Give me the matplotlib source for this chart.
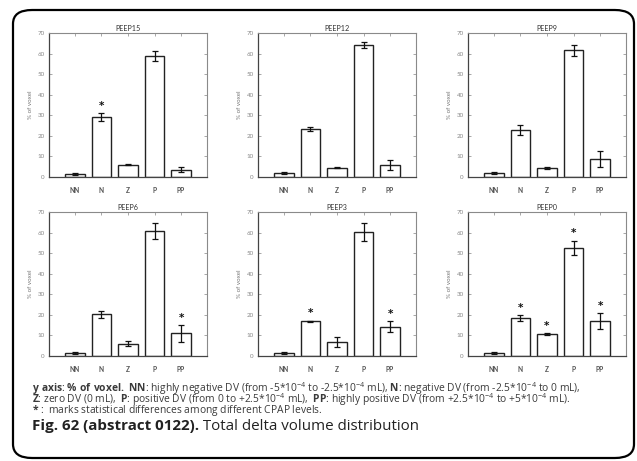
import numpy as np
import matplotlib
matplotlib.use("Agg")
import matplotlib.pyplot as plt
from matplotlib.patches import FancyBboxPatch

plt.rcParams['font.family'] = ['Lato', 'DejaVu Sans']
plt.rcParams['mathtext.default'] = 'regular'
plt.rcParams['mathtext.fontset'] = 'custom'
plt.rcParams['mathtext.rm'] = 'Open Sans'
plt.rcParams['mathtext.bf'] = 'Open Sans:bold'

# data
categories = ["NN", "N", "Z", "P", "PP"]
panels = ["PEEP15", "PEEP12", "PEEP9", "PEEP6", "PEEP3", "PEEP0"]
means = [
    [1.5, 29.0, 6.0, 58.8, 3.6],
    [1.8, 23.2, 4.6, 64.2, 5.8],
    [1.8, 22.8, 4.6, 61.5, 8.8],
    [1.5, 20.3, 6.0, 60.8, 11.0],
    [1.5, 16.9, 6.8, 60.2, 14.3],
    [1.5, 18.3, 10.6, 52.6, 17.0],
]
errors = [
    [0.3, 2.0, 0.4, 2.3, 1.2],
    [0.4, 1.0, 0.4, 1.5, 2.3],
    [0.4, 2.3, 0.5, 2.5, 4.0],
    [0.3, 1.7, 1.3, 4.0, 4.0],
    [0.3, 0.3, 2.2, 4.5, 2.7],
    [0.4, 1.5, 0.4, 3.5, 4.0],
]
# 1 = marked with a star
stars = [
    [0, 1, 0, 0, 0],
    [0, 0, 0, 0, 0],
    [0, 0, 0, 0, 0],
    [0, 0, 0, 0, 1],
    [0, 1, 0, 0, 1],
    [0, 1, 1, 1, 1],
]

W, H = 637, 461
fig = plt.figure(figsize=(W / 100, H / 100), dpi=100)

# rounded frame round the whole figure
frame = FancyBboxPatch((13 / W, 1 - 458 / H), 621 / W, 448 / H,
                       boxstyle="round,pad=0,rounding_size=0.03",
                       transform=fig.transFigure, fill=False,
                       edgecolor="black", linewidth=1.6)
fig.patches.append(frame)

lefts = [49, 258, 468]
bottoms = [177, 356]
aw, ah = 158, 144
x = np.arange(1, 6)

for i, name in enumerate(panels):
    r, c = divmod(i, 3)
    ax = fig.add_axes([lefts[c] / W, 1 - bottoms[r] / H, aw / W, ah / H])
    ax.bar(x, means[i], width=0.72, color="white", edgecolor="#222222",
           linewidth=1.0, zorder=2)
    ax.errorbar(x, means[i], yerr=errors[i], fmt="none", ecolor="#111111",
                elinewidth=0.9, capsize=2.2, capthick=0.9, zorder=3)
    for k in range(5):
        if stars[i][k]:
            ax.text(x[k], means[i][k] + errors[i][k] + 3.5, "*",
                    ha="center", va="center", fontsize=7.5, weight="bold",
                    color="#111111", family="DejaVu Sans")
    ax.set_xlim(0.02, 5.98)
    ax.set_ylim(0, 70)
    ax.set_yticks(range(0, 71, 10))
    ax.set_xticks(x)
    ax.set_xticklabels(categories, fontsize=4.8, weight="bold", color="#555555")
    ax.tick_params(axis="y", labelsize=4.5, labelcolor="#888888",
                   direction="in", length=2, width=0.6, color="#999999",
                   right=True, pad=3)
    ax.tick_params(axis="x", direction="in", length=2, width=0.6,
                   color="#999999", top=True, pad=7)
    for s in ["left", "bottom"]:
        ax.spines[s].set_color("#444444")
        ax.spines[s].set_linewidth(0.9)
    for s in ["top", "right"]:
        ax.spines[s].set_color("#8a8a8a")
        ax.spines[s].set_linewidth(0.8)
    ax.set_ylabel("% of voxel", fontsize=4.5, color="#777777", labelpad=3)
    ax.set_title(name, fontsize=5.2, color="#333333", pad=1.5)

# note under the panels, one text object with bold parts in mathtext
sup = r"10$^{-4}$"
note_lines = [
    r"$\bf{y\ axis}$: $\bf{\%\ of\ voxel.\ NN}$: highly negative DV (from -5*" + sup
    + " to -2.5*" + sup + r" mL), $\bf{N}$: negative DV (from -2.5*" + sup + " to 0 mL),",
    r"$\bf{Z}$: zero DV (0 mL),  $\bf{P}$: positive DV (from 0 to +2.5*" + sup
    + r" mL),  $\bf{PP}$: highly positive DV (from +2.5*" + sup + " to +5*" + sup + " mL).",
    r"$\bf{*}$ :  marks statistical differences among different CPAP levels.",
]
fig.text(32 / W, 1 - 380 / H, "\n".join(note_lines), fontsize=7.4,
         color="#3a3a3a", family=['Open Sans', 'DejaVu Sans'],
         va="top", ha="left", linespacing=0.52)

fig.canvas.draw()
renderer = fig.canvas.get_renderer()

# caption: bold lead-in, then regular text
cap_fam = ['Open Sans', 'DejaVu Sans']
t1 = fig.text(32 / W, 1 - 430 / H, "Fig. 62 (abstract 0122).", fontsize=10.9,
              weight="bold", color="#222222", family=cap_fam, va="baseline")
bb = t1.get_window_extent(renderer)
fig.text(32 / W + bb.width / fig.bbox.width, 1 - 430 / H,
         " Total delta volume distribution", fontsize=10.9, color="#222222",
         family=cap_fam, va="baseline")

fig.savefig("out.png", dpi=100)
